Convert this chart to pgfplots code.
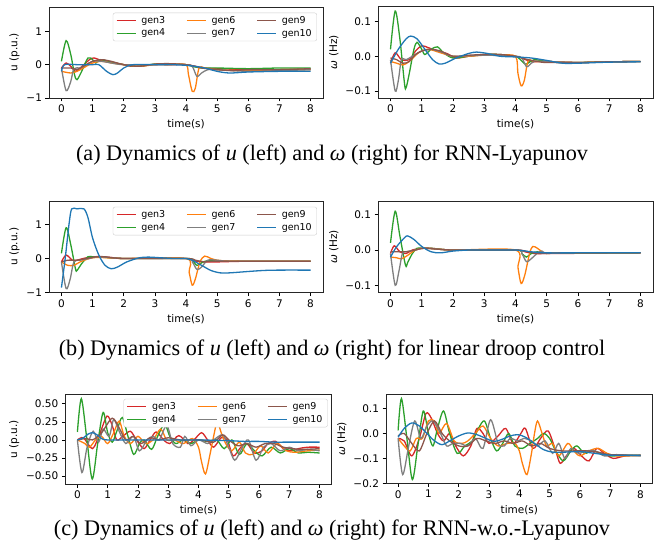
\documentclass[border=0pt]{standalone}
\usepackage{fontspec}
\setmainfont{DejaVu Sans}
\newfontfamily\capfont{Liberation Serif}
\usepackage{pgfplots}
\pgfplotsset{compat=1.18}

\definecolor{mred}{HTML}{D62728}
\definecolor{mgreen}{HTML}{2CA02C}
\definecolor{morange}{HTML}{FF7F0E}
\definecolor{mgray}{HTML}{7F7F7F}
\definecolor{mbrown}{HTML}{8C564B}
\definecolor{mblue}{HTML}{1F77B4}

\pgfplotsset{
  legend image code/.code={\draw[#1, line width=1.3pt] (0pt,0pt) -- (19pt,0pt);},
  g3/.style={draw=mred, line width=1.3pt, mark=none, smooth},
  g4/.style={draw=mgreen, line width=1.3pt, mark=none, smooth},
  g6/.style={draw=morange, line width=1.3pt, mark=none, smooth},
  g7/.style={draw=mgray, line width=1.3pt, mark=none, smooth},
  g9/.style={draw=mbrown, line width=1.3pt, mark=none, smooth},
  g10/.style={draw=mblue, line width=1.3pt, mark=none, smooth},
  panel/.style={
    scale only axis, anchor=south west,
    xmin=-0.4, xmax=8.4,
    xtick={0,1,2,3,4,5,6,7,8}, xticklabels={0,1,2,3,4,5,6,7,8},
    tick pos=left, tick align=outside, major tick length=3.5pt,
    axis line style={line width=0.6pt, black!85},
    every tick/.style={black, line width=0.6pt},
    tick label style={font=\fontsize{10.5}{12}\selectfont},
    label style={font=\fontsize{10.5}{12}\selectfont},
    xlabel={time(s)},
  },
  leg/.style={
    legend columns=3, legend cell align=left,
    legend style={at={(0.978,0.937)}, anchor=north east, draw=black!20,
      rounded corners=2pt, font=\fontsize{9.5}{11}\selectfont,
      inner xsep=3pt, inner ysep=1.5pt,
      /tikz/every odd column/.append style={column sep=3pt},
      /tikz/every even column/.append style={column sep=19pt}},
  },
  uaxis/.style={ytick={-1,0,1}, yticklabels={−1,0,1}, ylabel={u (p.u.)}},
  waxis/.style={ytick={-0.1,0,0.1}, yticklabels={−0.1,0.0,0.1}, ylabel={{\itshape ω} (Hz)}},
}
\newcommand{\genlegend}{%
  \addlegendimage{mred, line width=1.3pt}\addlegendimage{morange, line width=1.3pt}\addlegendimage{mbrown, line width=1.3pt}
  \addlegendimage{mgreen, line width=1.3pt}\addlegendimage{mgray, line width=1.3pt}\addlegendimage{mblue, line width=1.3pt}
  \legend{gen3,gen6,gen9,gen4,gen7,gen10}}

\begin{document}
\begin{tikzpicture}
\path[use as bounding box] (0,0) rectangle (665pt,550pt);

% ---------- (a) left ----------
\begin{axis}[panel, leg, uaxis, at={(49pt,452pt)}, width=274pt, height=91pt, ymin=-1, ymax=1.73]
\genlegend
\addplot[g3, forget plot] coordinates {(0,-0.1)(0.15,0.05)(0.3,-0.05)(0.45,-0.2)(0.6,-0.1)(0.9,0.15)(1.05,0.2)(1.3,0.12)(1.6,0.08)(2.0,0)(2.3,-0.05)(3,0)(3.5,0)(4,0)(4.3,-0.05)(4.6,-0.1)(5,-0.12)(6,-0.15)(7,-0.15)(8,-0.13)};
\addplot[g4, forget plot] coordinates {(0,0.1)(0.15,0.72)(0.3,0.3)(0.42,-0.3)(0.5,-0.45)(0.65,-0.2)(0.85,0.2)(1.0,0.15)(1.1,0.05)(1.25,0.15)(1.5,0.1)(2.0,0)(2.5,-0.05)(3,0.02)(3.5,0.02)(4,0)(4.2,-0.05)(4.5,-0.1)(5,-0.1)(6,-0.12)(7,-0.1)(8,-0.1)};
\addplot[g6, forget plot] coordinates {(0,-0.2)(0.3,-0.25)(0.5,-0.2)(0.7,-0.1)(1.0,0.05)(1.3,0.1)(1.6,0.05)(2,0)(2.5,-0.05)(3,0)(3.5,0)(4.0,0)(4.08,-0.3)(4.2,-0.8)(4.3,-0.7)(4.42,-0.1)(4.6,-0.1)(5,-0.15)(6,-0.18)(7,-0.15)(8,-0.15)};
\addplot[g7, forget plot] coordinates {(0,-0.1)(0.15,-0.78)(0.3,-0.5)(0.4,-0.12)(0.6,-0.1)(0.8,0)(1.0,0.1)(1.3,0.1)(1.6,0.05)(2,0)(3,0)(4,0)(4.2,-0.05)(4.35,-0.35)(4.5,-0.25)(4.7,-0.15)(5,-0.15)(6,-0.2)(7,-0.18)(8,-0.15)};
\addplot[g9, forget plot] coordinates {(0,-0.1)(0.3,-0.1)(0.5,-0.15)(0.7,-0.05)(1.0,0.1)(1.3,0.15)(1.6,0.1)(2,0)(2.5,-0.05)(3,0.02)(3.5,0.03)(4,0)(4.3,-0.05)(4.5,-0.1)(5,-0.15)(5.5,-0.18)(6,-0.15)(7,-0.15)(8,-0.12)};
\addplot[g10, forget plot] coordinates {(0,-0.2)(0.1,0)(0.5,0)(1.0,0)(1.2,0)(1.45,-0.2)(1.65,-0.3)(1.8,-0.25)(2.0,-0.1)(2.3,0)(3,0)(3.5,0)(4,-0.02)(4.3,-0.05)(4.6,-0.1)(5.0,-0.2)(5.4,-0.25)(6,-0.22)(7,-0.2)(8,-0.2)};
\end{axis}

% ---------- (a) right ----------
\begin{axis}[panel, waxis, at={(378pt,452pt)}, width=275pt, height=91.5pt, ymin=-0.12, ymax=0.143]
\addplot[g3] coordinates {(0,-0.02)(0.15,0.01)(0.35,-0.01)(0.6,-0.01)(0.8,0.015)(1.0,0.03)(1.2,0.025)(1.5,0.015)(1.8,0.008)(2.1,-0.005)(2.5,0)(3,0.005)(3.5,0.005)(4,0)(4.2,-0.005)(4.5,-0.015)(5,-0.015)(6,-0.018)(7,-0.016)(8,-0.015)};
\addplot[g4] coordinates {(0,0.02)(0.15,0.13)(0.3,0.05)(0.45,-0.08)(0.5,-0.09)(0.6,-0.05)(0.75,0.02)(0.85,0.04)(1.0,0.02)(1.1,0.005)(1.3,0.02)(1.5,0.027)(1.7,0.01)(2.0,-0.005)(2.5,0)(3,0.005)(3.5,0.005)(4,0)(4.1,-0.005)(4.3,-0.022)(4.4,-0.02)(4.6,-0.01)(5,-0.015)(5.5,-0.018)(6,-0.018)(7,-0.016)(8,-0.015)};
\addplot[g6] coordinates {(0,-0.015)(0.2,-0.02)(0.4,-0.025)(0.6,-0.015)(0.9,0.01)(1.2,0.02)(1.6,0.01)(2,0)(2.5,0)(3,0.003)(3.5,0.003)(4.0,0)(4.08,-0.05)(4.18,-0.085)(4.28,-0.07)(4.38,-0.02)(4.45,-0.01)(4.6,-0.015)(5,-0.015)(6,-0.018)(7,-0.016)(8,-0.015)};
\addplot[g7] coordinates {(0,-0.01)(0.15,-0.1)(0.25,-0.07)(0.35,-0.01)(0.5,-0.01)(0.7,0)(1.0,0.015)(1.3,0.02)(1.7,0.01)(2,0)(3,0.003)(4,0)(4.2,-0.005)(4.35,-0.03)(4.45,-0.025)(4.6,-0.015)(5,-0.015)(6,-0.018)(7,-0.016)(8,-0.015)};
\addplot[g9] coordinates {(0,-0.005)(0.2,-0.01)(0.4,-0.02)(0.6,-0.015)(0.8,0.005)(1.0,0.015)(1.3,0.02)(1.6,0.015)(2,0)(2.5,0.003)(3,0.005)(3.5,0.005)(4,0)(4.4,-0.01)(4.7,-0.015)(5,-0.018)(6,-0.018)(7,-0.016)(8,-0.015)};
\addplot[g10] coordinates {(0,-0.02)(0.25,0.02)(0.5,0.05)(0.65,0.058)(0.85,0.05)(1.1,0.02)(1.35,-0.01)(1.55,-0.022)(1.75,-0.02)(2.1,-0.005)(2.5,0.008)(2.75,0.012)(3.1,0.008)(3.5,0)(4,-0.002)(4.5,-0.005)(5,-0.012)(5.5,-0.02)(6,-0.02)(7,-0.017)(8,-0.016)};
\end{axis}

% ---------- (b) left ----------
\begin{axis}[panel, leg, uaxis, at={(49pt,257.3pt)}, width=274pt, height=91.7pt, ymin=-1, ymax=1.68]
\genlegend
\addplot[g3, forget plot] coordinates {(0,-0.1)(0.15,0.1)(0.35,-0.05)(0.5,-0.05)(0.7,0)(1.0,0.05)(1.3,0.05)(1.7,0.02)(2,0)(3,0)(4,0)(4.2,-0.05)(4.5,-0.1)(5,-0.1)(6,-0.08)(8,-0.08)};
\addplot[g4, forget plot] coordinates {(0,0.15)(0.15,0.9)(0.3,0.4)(0.45,-0.3)(0.5,-0.35)(0.65,-0.15)(0.85,0.05)(1.0,0.05)(1.3,0.04)(2,0)(4,0)(4.2,-0.05)(4.35,-0.2)(4.55,-0.1)(4.8,-0.05)(5.2,-0.08)(8,-0.08)};
\addplot[g6, forget plot] coordinates {(0,-0.1)(0.2,-0.2)(0.4,-0.2)(0.6,-0.1)(0.9,0)(1.2,0.03)(2,0)(4.0,0)(4.1,-0.4)(4.2,-0.78)(4.3,-0.6)(4.45,-0.1)(4.6,0.07)(4.8,0)(5.0,-0.05)(5.3,-0.07)(6,-0.08)(8,-0.08)};
\addplot[g7, forget plot] coordinates {(0,-0.1)(0.15,-0.88)(0.28,-0.6)(0.4,-0.1)(0.6,-0.05)(0.9,0)(1.2,0.05)(2,0)(4,0)(4.2,-0.1)(4.35,-0.32)(4.5,-0.25)(4.7,-0.05)(5.0,-0.05)(5.5,-0.08)(8,-0.08)};
\addplot[g9, forget plot] coordinates {(0,-0.1)(0.2,-0.05)(0.5,-0.05)(0.8,0)(1.1,0.05)(1.4,0.05)(2,0)(4,0)(4.3,-0.05)(4.6,-0.1)(5,-0.08)(8,-0.08)};
\addplot[g10, forget plot] coordinates {(0,-0.85)(0.12,0)(0.25,1.05)(0.33,1.45)(0.5,1.45)(0.72,1.45)(0.85,1.2)(1.0,0.6)(1.2,0.1)(1.4,-0.2)(1.6,-0.3)(1.8,-0.25)(2.1,-0.1)(2.5,0.02)(2.8,0.04)(3.2,0.02)(3.6,0)(4,0)(4.2,-0.05)(4.5,-0.2)(4.8,-0.35)(5.1,-0.42)(5.4,-0.42)(6,-0.38)(6.5,-0.35)(7,-0.34)(8,-0.34)};
\end{axis}

% ---------- (b) right ----------
\begin{axis}[panel, waxis, at={(378pt,257.3pt)}, width=275pt, height=91.7pt, ymin=-0.121, ymax=0.139]
\addplot[g3] coordinates {(0,-0.01)(0.12,0.012)(0.3,-0.005)(0.5,-0.01)(0.7,0)(1.0,0.005)(1.3,0.005)(2,0)(4,0)(4.3,-0.005)(4.6,-0.01)(5,-0.01)(8,-0.008)};
\addplot[g4] coordinates {(0,0.02)(0.15,0.11)(0.3,0.04)(0.48,-0.043)(0.55,-0.035)(0.7,-0.01)(0.85,0.005)(1.0,0.005)(1.3,0.005)(2,0)(4,0)(4.2,-0.01)(4.35,-0.02)(4.5,-0.01)(4.7,-0.005)(5,-0.008)(8,-0.008)};
\addplot[g6] coordinates {(0,-0.02)(0.2,-0.022)(0.35,-0.025)(0.55,-0.015)(0.8,0)(1.1,0.005)(2,0)(4.0,0)(4.08,-0.05)(4.18,-0.095)(4.3,-0.07)(4.45,-0.01)(4.55,0.01)(4.7,0.005)(4.85,-0.005)(5.0,-0.01)(5.5,-0.008)(8,-0.008)};
\addplot[g7] coordinates {(0,-0.01)(0.15,-0.1)(0.27,-0.06)(0.38,-0.01)(0.5,-0.005)(0.8,0)(1.1,0.005)(2,0)(4,0)(4.2,-0.01)(4.35,-0.033)(4.5,-0.025)(4.75,-0.005)(4.85,-0.003)(5.0,-0.01)(5.5,-0.008)(8,-0.008)};
\addplot[g9] coordinates {(0,-0.005)(0.3,-0.005)(0.5,-0.005)(0.8,0)(1.1,0.005)(2,0)(4,0)(4.4,-0.005)(4.8,-0.01)(5.5,-0.008)(8,-0.008)};
\addplot[g10] coordinates {(0,-0.02)(0.2,0.01)(0.45,0.035)(0.55,0.04)(0.75,0.03)(1.0,0.01)(1.3,-0.005)(1.6,-0.008)(2.0,-0.003)(2.5,0)(3,0)(4,0)(4.5,-0.005)(5.0,-0.008)(6,-0.008)(8,-0.008)};
\end{axis}

% ---------- (c) left ----------
\begin{axis}[panel, leg, at={(65.3pt,66pt)}, width=266.4pt, height=89.7pt, ymin=-0.608, ymax=0.63,
  ytick={-0.5,-0.25,0,0.25,0.5}, yticklabels={−0.50,−0.25,0.00,0.25,0.50}, ylabel={u (p.u.)},
  legend style={at={(0.985,0.95)}}]
\genlegend
\addplot[g3, forget plot] coordinates {(0,0)(0.2,0.03)(0.5,-0.12)(0.75,0.1)(0.98,0.33)(1.15,0.2)(1.3,0.0)(1.5,0.05)(1.75,0.12)(1.95,0.0)(2.2,-0.12)(2.4,0.0)(2.6,0.11)(2.85,0.0)(3.05,-0.05)(3.35,0.06)(3.65,-0.05)(3.85,0.0)(4.1,0.1)(4.3,0.0)(4.5,-0.1)(4.75,0.03)(4.95,0.0)(5.15,-0.22)(5.4,-0.1)(5.6,-0.05)(5.85,-0.18)(6.1,-0.15)(6.3,-0.05)(6.55,-0.02)(6.8,-0.12)(7.05,-0.15)(7.3,-0.12)(7.6,-0.1)(8,-0.1)};
\addplot[g4, forget plot] coordinates {(0,0.11)(0.13,0.57)(0.31,0.02)(0.49,-0.54)(0.67,-0.05)(0.85,0.38)(1.0,0.1)(1.15,-0.03)(1.3,0.12)(1.48,0.31)(1.67,0.05)(1.86,-0.2)(2.05,-0.05)(2.2,0.0)(2.45,-0.13)(2.65,0.05)(2.88,0.22)(3.05,0.05)(3.25,-0.05)(3.5,0.0)(3.75,-0.05)(4.0,0.0)(4.3,-0.02)(4.6,0.0)(4.85,-0.12)(5.1,0.0)(5.35,-0.2)(5.6,-0.05)(5.85,-0.15)(6.1,-0.22)(6.4,-0.1)(6.7,-0.18)(7.0,-0.12)(7.3,-0.18)(7.6,-0.17)(8,-0.18)};
\addplot[g6, forget plot] coordinates {(0,0)(0.25,-0.05)(0.4,-0.1)(0.6,0.0)(0.8,0.05)(1.0,-0.05)(1.2,0.1)(1.38,0.26)(1.55,0.05)(1.75,-0.05)(2.0,0.05)(2.25,-0.05)(2.5,0.0)(2.75,0.15)(2.95,0.0)(3.2,0.0)(3.5,-0.05)(3.8,0.02)(4.0,-0.1)(4.1,-0.3)(4.23,-0.47)(4.38,-0.2)(4.5,0.05)(4.62,0.25)(4.75,0.1)(4.9,-0.05)(5.1,-0.15)(5.35,-0.03)(5.55,-0.18)(5.8,-0.2)(6.05,-0.08)(6.3,-0.18)(6.6,-0.05)(6.9,-0.15)(7.2,-0.17)(7.6,-0.15)(8,-0.14)};
\addplot[g7, forget plot] coordinates {(0,0)(0.15,-0.45)(0.32,-0.1)(0.52,0.12)(0.7,-0.03)(0.85,0.15)(1.05,0.05)(1.2,0.28)(1.4,0.1)(1.6,-0.05)(1.85,0.05)(2.05,-0.15)(2.3,0.0)(2.5,0.05)(2.7,0.0)(2.95,0.2)(3.15,-0.05)(3.4,-0.1)(3.55,0.05)(3.75,-0.08)(4.0,0.0)(4.3,-0.05)(4.5,0.0)(4.8,0.07)(5.0,-0.1)(5.2,-0.28)(5.45,-0.1)(5.65,0.0)(5.9,-0.28)(6.15,-0.1)(6.4,-0.05)(6.7,-0.15)(7.0,-0.1)(7.3,-0.15)(7.6,-0.13)(8,-0.15)};
\addplot[g9, forget plot] coordinates {(0,0)(0.3,0.02)(0.5,0.0)(0.8,0.1)(1.15,0.3)(1.4,0.15)(1.6,0.0)(1.85,0.05)(2.1,-0.05)(2.4,0.03)(2.7,0.0)(3.0,0.03)(3.4,0.0)(3.8,0.0)(4.1,0.0)(4.5,-0.03)(4.8,0.07)(5.0,0.0)(5.3,-0.08)(5.6,-0.05)(5.9,-0.1)(6.2,-0.05)(6.5,-0.05)(6.8,-0.1)(7.1,-0.12)(7.5,-0.13)(8,-0.12)};
\addplot[g10, forget plot] coordinates {(0,0)(0.2,0.03)(0.35,0.08)(0.5,0.1)(0.65,0.07)(0.8,0.02)(1.0,0.0)(2,0.0)(3,0.0)(4,0.0)(5,-0.01)(5.5,-0.02)(6,-0.02)(6.5,-0.03)(7,-0.03)(8,-0.03)};
\end{axis}

% ---------- (c) right ----------
\begin{axis}[panel, at={(386pt,66.7pt)}, width=266.7pt, height=89pt, ymin=-0.2, ymax=0.157,
  ytick={-0.2,-0.1,0,0.1}, yticklabels={−0.2,−0.1,0.0,0.1}, ylabel={{\itshape ω} (Hz)}]
\addplot[g3] coordinates {(0,-0.02)(0.2,-0.03)(0.45,-0.09)(0.7,-0.02)(0.92,0.08)(1.1,0.06)(1.3,0.0)(1.5,-0.03)(1.7,0.0)(1.9,-0.05)(2.15,-0.09)(2.4,-0.05)(2.6,0.02)(2.8,0.0)(3.0,-0.04)(3.3,-0.01)(3.55,0.02)(3.8,-0.04)(4.05,0.0)(4.2,0.02)(4.45,-0.06)(4.7,-0.02)(4.95,0.01)(5.2,-0.07)(5.35,-0.12)(5.55,-0.09)(5.8,-0.06)(6.05,-0.09)(6.3,-0.11)(6.55,-0.06)(6.8,-0.08)(7.1,-0.1)(7.5,-0.09)(8,-0.088)};
\addplot[g4] coordinates {(0,0.012)(0.11,0.14)(0.29,-0.02)(0.47,-0.185)(0.65,-0.05)(0.83,0.09)(1.0,0.0)(1.15,-0.05)(1.3,0.02)(1.5,0.09)(1.7,0.0)(1.95,-0.08)(2.2,-0.05)(2.45,-0.03)(2.65,0.02)(2.85,0.05)(3.05,-0.02)(3.25,-0.07)(3.45,-0.04)(3.65,0.0)(3.85,-0.05)(4.1,-0.06)(4.35,-0.04)(4.6,-0.02)(4.8,0.0)(5.0,-0.02)(5.2,-0.07)(5.45,-0.11)(5.7,-0.07)(5.9,-0.05)(6.15,-0.08)(6.4,-0.07)(6.7,-0.08)(7.0,-0.09)(7.5,-0.088)(8,-0.088)};
\addplot[g6] coordinates {(0,-0.02)(0.2,-0.05)(0.4,-0.07)(0.6,-0.02)(0.8,-0.02)(1.0,0.05)(1.2,0.05)(1.35,0.0)(1.6,0.04)(1.85,-0.03)(2.1,-0.04)(2.3,-0.03)(2.55,0.0)(2.8,0.03)(3.05,-0.02)(3.3,-0.05)(3.6,-0.04)(3.85,-0.04)(4.0,-0.07)(4.1,-0.12)(4.25,-0.165)(4.4,-0.08)(4.5,0.0)(4.6,0.05)(4.75,0.0)(4.9,-0.05)(5.1,-0.04)(5.3,-0.09)(5.6,-0.04)(5.8,-0.07)(6.0,-0.09)(6.3,-0.07)(6.6,-0.06)(6.9,-0.08)(7.2,-0.09)(7.6,-0.09)(8,-0.088)};
\addplot[g7] coordinates {(0,-0.02)(0.15,-0.165)(0.35,-0.05)(0.55,0.05)(0.75,-0.02)(0.95,0.03)(1.15,0.05)(1.4,0.0)(1.6,-0.05)(1.8,-0.04)(2.05,-0.04)(2.3,-0.05)(2.55,-0.02)(2.8,-0.06)(3.05,0.055)(3.3,-0.04)(3.5,-0.05)(3.7,-0.02)(3.95,-0.03)(4.15,-0.02)(4.4,-0.03)(4.6,-0.05)(4.85,-0.03)(5.1,-0.08)(5.3,-0.04)(5.5,-0.1)(5.7,-0.06)(5.95,-0.08)(6.2,-0.07)(6.5,-0.07)(6.8,-0.09)(7.2,-0.085)(8,-0.09)};
\addplot[g9] coordinates {(0,-0.01)(0.2,0.0)(0.45,-0.04)(0.7,-0.07)(0.95,0.0)(1.2,0.05)(1.45,0.0)(1.7,-0.03)(2.0,-0.05)(2.3,-0.05)(2.6,-0.02)(2.9,-0.03)(3.2,-0.04)(3.5,-0.03)(3.8,-0.04)(4.1,-0.03)(4.4,-0.05)(4.7,-0.04)(5.0,-0.06)(5.4,-0.07)(5.8,-0.07)(6.2,-0.07)(6.6,-0.075)(7,-0.085)(8,-0.088)};
\addplot[g10] coordinates {(0,-0.015)(0.2,0.02)(0.45,0.042)(0.7,0.03)(0.95,0.0)(1.2,-0.03)(1.45,-0.045)(1.7,-0.03)(2.0,-0.01)(2.3,0.002)(2.6,-0.005)(2.9,-0.02)(3.15,-0.032)(3.4,-0.025)(3.7,-0.01)(3.95,-0.005)(4.2,-0.015)(4.5,-0.04)(4.8,-0.065)(5.1,-0.075)(5.5,-0.075)(6.0,-0.073)(6.5,-0.08)(7.0,-0.087)(8,-0.088)};
\end{axis}

% ---------- captions ----------
\node[font=\capfont\fontsize{22.2}{25}\selectfont] at (332pt,395pt) {(a) Dynamics of {\itshape u} (left) and {\itshape ω} (right) for RNN-Lyapunov};
\node[font=\capfont\fontsize{22.2}{25}\selectfont] at (332pt,200pt) {(b) Dynamics of {\itshape u} (left) and {\itshape ω} (right) for linear droop control};
\node[font=\capfont\fontsize{22.2}{25}\selectfont] at (332pt,20pt) {(c) Dynamics of {\itshape u} (left) and {\itshape ω} (right) for RNN-w.o.-Lyapunov};
\end{tikzpicture}
\end{document}
